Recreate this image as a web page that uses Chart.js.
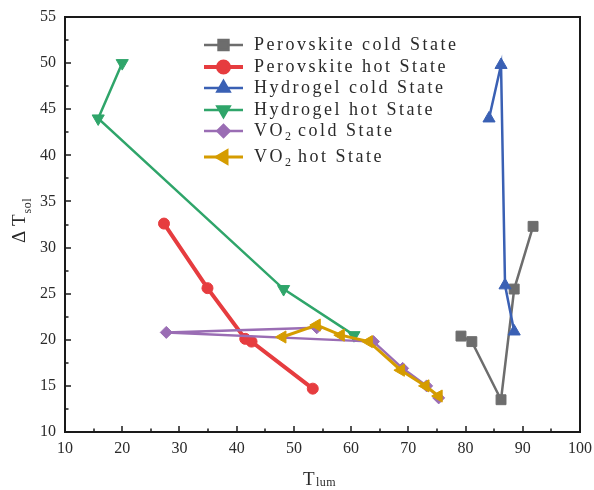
<!DOCTYPE html>
<html>
<head>
<meta charset="utf-8">
<script src="https://cdn.jsdelivr.net/npm/chart.js@4"></script>
<style>
  html, body { margin: 0; padding: 0; background: #fff; }
  #c { display: block; }
</style>
</head>
<body>
<canvas id="c" width="594" height="490"></canvas>
<script>
// values (T_lum vs delta T_sol)
const xPerovCold = [79.2, 81.1, 86.2, 88.5, 91.8];
const yPerovCold = [20.4, 19.8, 13.5, 25.5, 32.3];
const xPerovHot = [27.3, 34.9, 41.5, 42.6, 53.3];
const yPerovHot = [32.6, 25.6, 20.1, 19.8, 14.7];
const xHydroCold = [84.1, 86.2, 86.9, 88.5];
const yHydroCold = [44.0, 49.8, 25.9, 20.9];
const xHydroHot = [20.0, 15.8, 48.2, 60.5];
const yHydroHot = [50.0, 44.0, 25.5, 20.5];
const xVO2Cold = [54.0, 27.7, 63.9, 69.0, 73.2, 75.3];
const yVO2Cold = [21.3, 20.8, 19.8, 16.9, 15.0, 13.7];
const xVO2Hot = [48.0, 54.0, 58.2, 63.1, 68.7, 73.0, 75.3];
const yVO2Hot = [20.3, 21.6, 20.5, 19.8, 16.7, 15.0, 13.9];

const xTicks = [10, 20, 30, 40, 50, 60, 70, 80, 90, 100];
const yTicks = [10, 15, 20, 25, 30, 35, 40, 45, 50, 55];

const SERIF = '"Liberation Serif", "DejaVu Serif", serif';
const pts = (xs, ys) => xs.map((x, i) => ({ x, y: ys[i] }));

// name, subscript-split label, colour, marker, rotation, radius, line width
const series = [
  { label: ['Perovskite cold State'], data: pts(xPerovCold, yPerovCold), col: '#6d6d6d', ps: 'rect', rot: 0, r: 7, lw: 2.5 },
  { label: ['Perovskite hot State'], data: pts(xPerovHot, yPerovHot), col: '#e63c3f', ps: 'circle', rot: 0, r: 5.5, lw: 4 },
  { label: ['Hydrogel cold State'], data: pts(xHydroCold, yHydroCold), col: '#3a60b4', ps: 'triangle', rot: 0, r: 7, lw: 2.5 },
  { label: ['Hydrogel hot State'], data: pts(xHydroHot, yHydroHot), col: '#2fa56a', ps: 'triangle', rot: 180, r: 7, lw: 2.5 },
  { label: ['VO', '2', ' cold State'], data: pts(xVO2Cold, yVO2Cold), col: '#9a6db4', ps: 'rectRot', rot: 0, r: 6, lw: 2.5 },
  { label: ['VO', '2', ' hot State'], data: pts(xVO2Hot, yVO2Hot), col: '#d59c00', ps: 'triangle', rot: 270, r: 7, lw: 3 }
];

// inward major/minor ticks, box border, legend and axis titles
const decor = {
  id: 'decor',
  afterDatasetsDraw(chart) {
    const { ctx, chartArea: a, scales: { x, y } } = chart;
    ctx.save();
    ctx.strokeStyle = '#1a1a1a'; ctx.lineWidth = 2;
    ctx.strokeRect(a.left, a.top, a.right - a.left, a.bottom - a.top);
    ctx.lineWidth = 1.5;
    for (let v = 10; v <= 100; v += 5) {
      const px = Math.round(x.getPixelForValue(v)), len = v % 10 === 0 ? 6 : 3.5;
      ctx.beginPath(); ctx.moveTo(px, a.bottom); ctx.lineTo(px, a.bottom - len); ctx.stroke();
    }
    for (let v = 10; v <= 55; v += 2.5) {
      const py = Math.round(y.getPixelForValue(v)), len = v % 5 === 0 ? 6 : 3.5;
      ctx.beginPath(); ctx.moveTo(a.left, py); ctx.lineTo(a.left + len, py); ctx.stroke();
    }

    // legend
    const rowsY = [45, 67, 88, 110, 131, 157];
    ctx.textBaseline = 'middle';
    series.forEach((s, i) => {
      const ly = rowsY[i];
      ctx.strokeStyle = s.col; ctx.fillStyle = s.col; ctx.lineWidth = s.lw;
      ctx.beginPath(); ctx.moveTo(204, ly); ctx.lineTo(243, ly); ctx.stroke();
      Chart.helpers.drawPoint(ctx, { pointStyle: s.ps, rotation: s.rot, radius: s.r, borderWidth: 1 }, 223.5, ly);
      ctx.fillStyle = '#2a2a2a';
      let tx = 254;
      s.label.forEach((part, k) => {
        const sub = s.label.length > 1 && k === 1;
        ctx.font = (sub ? '12px ' : '18px ') + SERIF;
        ctx.letterSpacing = sub ? '0px' : '2.5px';
        ctx.fillText(part, tx, ly + (sub ? 6 : 0));
        tx += ctx.measureText(part).width;
      });
    });
    ctx.letterSpacing = '0px';

    // x title: T_lum
    ctx.textBaseline = 'alphabetic'; ctx.fillStyle = '#2a2a2a';
    ctx.font = '19px ' + SERIF; ctx.fillText('T', 303, 485);
    ctx.font = '12px ' + SERIF; ctx.letterSpacing = '0.5px'; ctx.fillText('lum', 316, 486);
    ctx.letterSpacing = '0px';

    // y title: ΔT_sol (rotated)
    ctx.translate(25, 243); ctx.rotate(-Math.PI / 2);
    ctx.font = '19px ' + SERIF; ctx.fillText('Δ T', 0, 0);
    const w = ctx.measureText('Δ T').width;
    ctx.font = '12px ' + SERIF; ctx.letterSpacing = '0.5px'; ctx.fillText('sol', w + 1, 6);
    ctx.restore();
  }
};

new Chart(document.getElementById('c'), {
  type: 'scatter',
  data: {
    datasets: series.map((s, i) => ({
      label: s.label.join(''), data: s.data, showLine: true, order: 5 - i,
      borderColor: s.col, backgroundColor: s.col, borderWidth: s.lw,
      pointStyle: s.ps, rotation: s.rot, pointRadius: s.r, pointBorderWidth: 1,
      pointBackgroundColor: s.col, pointBorderColor: s.col, tension: 0
    }))
  },
  options: {
    responsive: false, animation: false, devicePixelRatio: 1,
    layout: { padding: { top: 17, right: 14, left: 0, bottom: 0 } },
    plugins: { legend: { display: false }, tooltip: { enabled: false } },
    scales: {
      x: {
        type: 'linear', min: 10, max: 100,
        afterFit: s => { s.height = 58; s.paddingLeft = 0; s.paddingRight = 0; },
        afterBuildTicks: s => { s.ticks = xTicks.map(v => ({ value: v })); },
        grid: { display: false, drawTicks: false },
        border: { display: false },
        ticks: { padding: 7, color: '#2a2a2a', maxRotation: 0, font: { family: SERIF, size: 16 } }
      },
      y: {
        type: 'linear', min: 10, max: 55,
        afterFit: s => { s.width = 65; s.paddingTop = 0; s.paddingBottom = 0; },
        afterBuildTicks: s => { s.ticks = yTicks.map(v => ({ value: v })); },
        grid: { display: false, drawTicks: false },
        border: { display: false },
        ticks: { padding: 9, color: '#2a2a2a', font: { family: SERIF, size: 16 } }
      }
    }
  },
  plugins: [decor]
});
</script>
</body>
</html>
